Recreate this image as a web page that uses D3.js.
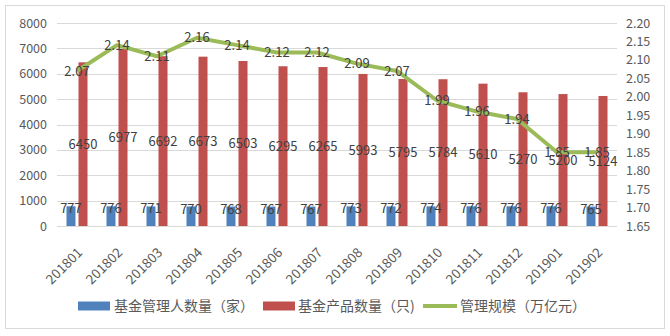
<!DOCTYPE html>
<html>
<head>
<meta charset="utf-8">
<script src="https://cdn.jsdelivr.net/npm/d3@7"></script>
<style>
  html, body { margin: 0; padding: 0; background: #fff; }
  svg { display: block; }
  text { font-family: "Microsoft YaHei", "Noto Sans CJK SC", "Noto Sans", sans-serif; }
</style>
</head>
<body>
<svg id="chart" width="670" height="336"></svg>
<script>
// Monthly private fund statistics
const months = ["201801","201802","201803","201804","201805","201806","201807",
                "201808","201809","201810","201811","201812","201901","201902"];
const managers = [777, 776, 771, 770, 768, 767, 767, 773, 772, 774, 776, 776, 776, 765];
const products = [6450, 6977, 6692, 6673, 6503, 6295, 6265, 5993, 5795, 5784, 5610, 5270, 5200, 5124];
const scale = [2.07, 2.14, 2.11, 2.16, 2.14, 2.12, 2.12, 2.09, 2.07, 1.99, 1.96, 1.94, 1.85, 1.85];

const leftTicks = [0, 1000, 2000, 3000, 4000, 5000, 6000, 7000, 8000];
const rightTicks = [1.65, 1.70, 1.75, 1.80, 1.85, 1.90, 1.95, 2.00, 2.05, 2.10, 2.15, 2.20];

const seriesNames = ["基金管理人数量（家）", "基金产品数量（只)", "管理规模（万亿元）"];
const colors = { blue: "#4f81bd", red: "#c0504d", green: "#9bbb59" };

const svg = d3.select("#chart");

// outer frame
svg.append("rect")
  .attr("x", 5.5).attr("y", 5.5)
  .attr("width", 659).attr("height", 323)
  .attr("fill", "#fff").attr("stroke", "#d9d9d9").attr("stroke-width", 1);

const plot = { left: 57, right: 617, top: 23, bottom: 226 };

const x = d3.scaleBand().domain(months).range([plot.left, plot.right]).paddingInner(0).paddingOuter(0);
const sub = d3.scaleBand().domain(["m", "p"]).range([0, x.bandwidth()]).paddingInner(0.25).paddingOuter(0.79);
const yL = d3.scaleLinear().domain([0, 8000]).range([plot.bottom, plot.top]);
const yR = d3.scaleLinear().domain([1.65, 2.20]).range([plot.bottom, plot.top]);

// gridlines
svg.append("g")
  .selectAll("line").data(leftTicks).join("line")
  .attr("x1", plot.left).attr("x2", plot.right)
  .attr("y1", d => Math.round(yL(d)) + 0.5).attr("y2", d => Math.round(yL(d)) + 0.5)
  .attr("stroke", "#d9d9d9").attr("stroke-width", 1);

// left axis
const axL = svg.append("g").attr("transform", `translate(${plot.left},0)`)
  .call(d3.axisLeft(yL).tickValues(leftTicks).tickFormat(d3.format("d")).tickSize(0).tickPadding(10));
axL.select(".domain").remove();
axL.selectAll("text").attr("fill", "#595959").style("font-size", "12.5px");

// right axis
const axR = svg.append("g").attr("transform", `translate(${plot.right},0)`)
  .call(d3.axisRight(yR).tickValues(rightTicks).tickFormat(d3.format(".2f")).tickSize(0).tickPadding(9));
axR.select(".domain").remove();
axR.selectAll("text").attr("fill", "#595959").style("font-size", "12.5px");

// bottom axis with rotated month labels
const axB = svg.append("g").attr("transform", `translate(0,${plot.bottom})`)
  .call(d3.axisBottom(x).tickSize(0).tickPadding(0));
axB.select(".domain").remove();
axB.selectAll("text")
  .attr("fill", "#595959").style("font-size", "13.5px")
  .attr("text-anchor", "end")
  .attr("dy", "0.35em")
  .attr("transform", "translate(3,24) rotate(-45)");

// bars
const groups = svg.append("g").selectAll("g").data(months).join("g")
  .attr("transform", d => `translate(${x(d)},0)`);

groups.append("rect")
  .attr("x", sub("m")).attr("width", sub.bandwidth())
  .attr("y", (d, i) => yL(managers[i]))
  .attr("height", (d, i) => yL(0) - yL(managers[i]))
  .attr("fill", colors.blue);

groups.append("rect")
  .attr("x", sub("p")).attr("width", sub.bandwidth())
  .attr("y", (d, i) => yL(products[i]))
  .attr("height", (d, i) => yL(0) - yL(products[i]))
  .attr("fill", colors.red);

// baseline
svg.append("line")
  .attr("x1", plot.left).attr("x2", plot.right)
  .attr("y1", plot.bottom + 0.5).attr("y2", plot.bottom + 0.5)
  .attr("stroke", "#d9d9d9");

// line series
const line = d3.line()
  .x((d, i) => x(months[i]) + x.bandwidth() / 2)
  .y(d => yR(d));
svg.append("path").datum(scale)
  .attr("d", line)
  .attr("fill", "none").attr("stroke", colors.green)
  .attr("stroke-width", 4).attr("stroke-linejoin", "round");

// data labels
const lab = svg.append("g").attr("fill", "#404040").style("font-size", "13px").attr("text-anchor", "middle");

lab.selectAll(".lm").data(managers).join("text").attr("class", "lm")
  .attr("x", (d, i) => x(months[i]) + sub("m") + sub.bandwidth() / 2)
  .attr("y", d => yL(d) + 2.5)
  .attr("dy", "0.35em")
  .text(d => d);

lab.selectAll(".lp").data(products).join("text").attr("class", "lp")
  .attr("x", (d, i) => x(months[i]) + sub("p") + sub.bandwidth() / 2)
  .attr("y", d => (yL(d) + yL(0)) / 2)
  .attr("dy", "0.35em")
  .text(d => d);

lab.selectAll(".ls").data(scale).join("text").attr("class", "ls")
  .attr("x", (d, i) => x(months[i]) + x.bandwidth() / 2)
  .attr("y", d => yR(d))
  .attr("dy", "0.35em")
  .text(d => d.toFixed(2));

// legend
const legend = svg.append("g").style("font-size", "14px").attr("fill", "#595959");
const legendItems = [
  { name: seriesNames[0], kind: "rect", color: colors.blue, x: 78, tx: 114 },
  { name: seriesNames[1], kind: "rect", color: colors.red, x: 263, tx: 298 },
  { name: seriesNames[2], kind: "line", color: colors.green, x: 423, tx: 460 }
];
const ly = 306;
legendItems.forEach(it => {
  if (it.kind === "rect") {
    legend.append("rect").attr("x", it.x).attr("y", ly - 4.5).attr("width", 32).attr("height", 9).attr("fill", it.color);
  } else {
    legend.append("line").attr("x1", it.x).attr("x2", it.x + 34).attr("y1", ly).attr("y2", ly)
      .attr("stroke", it.color).attr("stroke-width", 4);
  }
  legend.append("text").attr("x", it.tx).attr("y", ly).attr("dy", "0.35em").text(it.name);
});
</script>
</body>
</html>
